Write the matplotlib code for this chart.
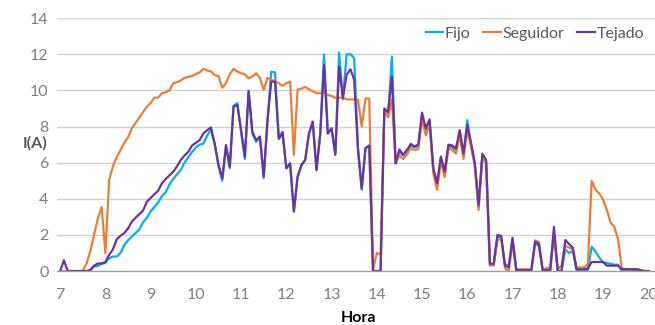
import matplotlib
matplotlib.use("Agg")
import matplotlib.pyplot as plt
import numpy as np

# Sampling every 5 minutes from 7:00 to 20:00
minutes = np.arange(0, 781, 5)
hora = 7 + minutes / 60

fijo = [
    0, 0, 0, 0, 0, 0, 0, 0, 0.05, 0.25, 0.28, 0.4,
    0.45, 0.7, 0.8, 0.8, 1.0, 1.44, 1.7, 1.9, 2.1, 2.3, 2.7, 2.95,
    3.3, 3.55, 3.8, 4.15, 4.35, 4.8, 5.1, 5.35, 5.6, 6.0, 6.3, 6.6,
    6.85, 7.0, 7.05, 7.5, 7.85, 7.0, 5.8, 5.0, 6.9, 5.7, 9.15, 9.3,
    7.7, 6.2, 10.0, 7.6, 7.15, 7.4, 5.15, 8.3, 11.04, 11.0, 7.3, 7.6,
    5.69, 5.96, 3.29, 5.23, 5.86, 6.15, 7.6, 8.27, 5.6, 7.6, 12.0, 7.7,
    7.9, 6.5, 12.1, 9.5, 12.0, 12.0, 11.8, 6.9, 4.5, 6.8, 6.95, 0,
    0, 0, 8.9, 8.6, 11.87, 6.0, 6.6, 6.4, 6.65, 6.95, 6.85, 6.9,
    8.6, 7.8, 8.3, 5.6, 4.75, 6.25, 5.4, 6.95, 6.85, 6.7, 7.7, 6.4,
    8.35, 7.0, 5.9, 3.5, 6.4, 6.05, 0.3, 0.35, 1.9, 1.85, 0.4, 0.3,
    1.85, 0.05, 0.05, 0.05, 0.05, 0.05, 1.5, 1.4, 0.05, 0.05, 0.0, 2.0,
    0, 0, 1.2, 1.0, 1.1, 0, 0, 0, 0.05, 1.35, 1.1, 0.75,
    0.5, 0.45, 0.4, 0.35, 0.35, 0, 0, 0.05, 0.05, 0.05, 0, 0,
    0,
]

seguidor = [
    0, 0, 0, 0, 0, 0, 0.02, 0.4, 1.1, 2.0, 2.9, 3.55,
    1.0, 5.04, 5.8, 6.3, 6.7, 7.1, 7.4, 7.9, 8.2, 8.5, 8.8, 9.1,
    9.3, 9.6, 9.6, 9.84, 9.9, 10.0, 10.4, 10.45, 10.55, 10.7, 10.75, 10.8,
    10.9, 11.0, 11.2, 11.1, 11.05, 10.85, 10.8, 10.15, 10.4, 10.9, 11.19, 11.05,
    10.95, 10.9, 10.67, 10.77, 10.95, 10.7, 10.03, 10.7, 10.6, 10.5, 10.4, 10.25,
    10.4, 10.5, 6.43, 10.06, 10.1, 10.2, 10.06, 9.95, 9.85, 9.84, 9.9, 9.75,
    9.7, 9.6, 9.6, 9.6, 9.5, 9.5, 9.5, 9.5, 8.0, 9.55, 9.55, 0.05,
    1.0, 0.9, 8.9, 8.5, 9.47, 5.97, 6.4, 6.2, 6.45, 6.8, 6.7, 6.75,
    8.4, 7.5, 8.1, 5.4, 4.5, 6.1, 5.2, 6.8, 6.7, 6.5, 7.5, 6.2,
    7.8, 6.9, 5.8, 3.38, 6.3, 5.95, 0.35, 0.3, 1.7, 1.8, 0.15, 0.0,
    1.6, 0.1, 0.1, 0.1, 0.1, 0.1, 1.7, 1.6, 0.1, 0.15, 0.2, 2.1,
    0.1, 0.3, 1.4, 1.3, 1.2, 0.2, 0.2, 0.2, 0.4, 4.99, 4.5, 4.3,
    3.97, 3.4, 2.7, 2.45, 1.75, 0.15, 0.1, 0.1, 0.1, 0.1, 0.05, 0,
    0,
]

tejado = [
    0, 0.6, 0, 0, 0, 0, 0, 0, 0.05, 0.3, 0.42, 0.42,
    0.5, 0.9, 1.2, 1.75, 1.95, 2.1, 2.35, 2.73, 2.95, 3.15, 3.35, 3.84,
    4.05, 4.25, 4.45, 4.86, 5.1, 5.3, 5.5, 5.8, 6.15, 6.4, 6.6, 6.95,
    7.1, 7.25, 7.62, 7.8, 7.95, 7.07, 5.9, 5.13, 6.98, 5.78, 9.1, 9.2,
    7.8, 6.33, 9.94, 7.7, 7.25, 7.45, 5.23, 8.37, 10.49, 10.49, 7.35, 7.7,
    5.69, 5.96, 3.29, 5.23, 5.86, 6.15, 7.6, 8.27, 5.6, 7.6, 11.41, 7.6,
    7.9, 6.43, 11.32, 9.6, 10.86, 11.17, 10.6, 6.7, 4.58, 6.8, 6.95, 0,
    0, 0, 9.0, 8.8, 10.77, 5.96, 6.74, 6.43, 6.7, 7.04, 6.9, 7.0,
    8.77, 7.9, 8.4, 5.69, 4.86, 6.34, 5.5, 7.0, 6.95, 6.8, 7.8, 6.5,
    8.09, 7.1, 6.0, 3.66, 6.5, 6.15, 0.42, 0.4, 2.0, 1.95, 0.3, 0.2,
    1.8, 0.05, 0.05, 0.05, 0.05, 0.05, 1.63, 1.5, 0.05, 0.05, 0.05, 2.45,
    0, 0, 1.72, 1.5, 1.3, 0.1, 0.1, 0.1, 0.15, 0.5, 0.5, 0.5,
    0.5, 0.3, 0.3, 0.3, 0.3, 0.1, 0.1, 0.1, 0.1, 0.1, 0.05, 0,
    0,
]

x_ticks = list(range(7, 21))
y_ticks = list(range(0, 15, 2))

plt.rcParams["font.family"] = ["Lato", "DejaVu Sans"]

fig = plt.figure(figsize=(6.55, 3.25), dpi=100)
ax = fig.add_axes([0.087, 0.166, 0.913, 0.778])

ax.plot(hora, fijo, color="#00B0F0", linewidth=1.6, label="Fijo")
ax.plot(hora, seguidor, color="#ED7D31", linewidth=1.6, label="Seguidor")
ax.plot(hora, tejado, color="#7030A0", linewidth=1.6, label="Tejado")

ax.set_xlim(6.93, 20.15)
ax.set_ylim(0, 14)
ax.set_xticks(x_ticks)
ax.set_yticks(y_ticks)
ax.tick_params(axis="both", length=0, labelsize=11.5, labelcolor="#7f7f7f")
ax.tick_params(axis="x", pad=12)
ax.tick_params(axis="y", pad=6)

ax.grid(axis="y", color="#d0d0d0", linewidth=1)
ax.set_axisbelow(True)
for side in ["top", "right", "left"]:
    ax.spines[side].set_visible(False)
ax.spines["bottom"].set_color("#a0a0a0")
ax.spines["bottom"].set_linewidth(1)

fig.text(35 / 655, 1 - 143 / 325, "I(A)", fontsize=11.5, fontweight="bold",
         color="#595959", ha="center", va="center")
fig.text(358 / 655, 1 - 318 / 325, "Hora", fontsize=11.5, fontweight="bold",
         color="black", ha="center", va="center")

leg = ax.legend(loc="center right", bbox_to_anchor=(652 / 655, 1 - 34 / 325),
                bbox_transform=fig.transFigure, ncol=3, frameon=False,
                fontsize=11.5, handlelength=1.1, handletextpad=0.1,
                columnspacing=0.8, borderpad=0)
for t in leg.get_texts():
    t.set_color("#595959")

fig.savefig("out.png", dpi=100)
